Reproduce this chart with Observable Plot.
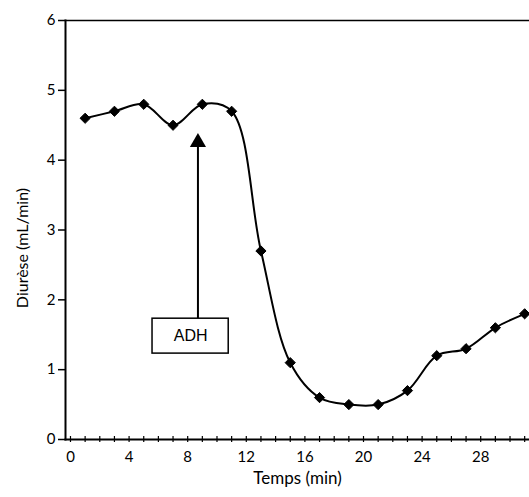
<!DOCTYPE html>
<html>
<head>
<meta charset="utf-8">
<script src="https://cdn.jsdelivr.net/npm/d3@7"></script>
<script src="https://cdn.jsdelivr.net/npm/@observablehq/plot@0.6"></script>
<style>
  html, body { margin: 0; padding: 0; background: #fff; }
  #chart svg { display: block; }
</style>
</head>
<body>
<div id="chart"></div>
<script>
// Data
const times = [1, 3, 5, 7, 9, 11, 13, 15, 17, 19, 21, 23, 25, 27, 29, 31];
const diurese = [4.6, 4.7, 4.8, 4.5, 4.8, 4.7, 2.7, 1.1, 0.6, 0.5, 0.5, 0.7, 1.2, 1.3, 1.6, 1.8];
const xTickLabels = [0, 4, 8, 12, 16, 20, 24, 28];
const xMinorTicks = d3.range(0, 32);
const yTicks = [0, 1, 2, 3, 4, 5, 6];
const xLabel = ["Temps (min)"];
const yLabel = ["Diurèse (mL/min)"];

// Annotation (ADH injection)
const adhLabel = ["ADH"];
const adhArrow = [{x: 8.7, from: 1.73, to: 4.27}];
const adhBox = [{x1: 5.6, x2: 10.8, y1: 1.23, y2: 1.73, cx: 8.2, cy: 1.48}];

const data = times.map((t, i) => ({t, v: diurese[i]}));

const chart = Plot.plot({
  width: 529,
  height: 497,
  marginLeft: 65,
  marginRight: 0,
  marginTop: 20,
  marginBottom: 58,
  style: {fontFamily: "Lato, 'Open Sans', sans-serif", fontSize: "15px", background: "#fff", color: "#000"},
  x: {domain: [-0.34, 31.33]},
  y: {domain: [0, 6]},
  marks: [
    Plot.frame({anchor: "top", strokeWidth: 1.5}),
    Plot.frame({anchor: "left", strokeWidth: 2}),
    Plot.frame({anchor: "bottom", strokeWidth: 2}),
    Plot.ruleX(xMinorTicks, {x: d => d, y1: 0, y2: 0, insetTop: -3, insetBottom: -3, strokeWidth: 1.2}),
    Plot.axisX({ticks: xTickLabels, tickSize: 0, tickPadding: 12, fontSize: 15, tickFormat: "d", label: null}),
    Plot.axisY({ticks: yTicks, tickSize: 7, tickPadding: 3, strokeWidth: 1.5, fontSize: 15, tickFormat: "d", label: null}),
    Plot.text(xLabel, {text: d => d, frameAnchor: "bottom", dy: 44, fontSize: 17}),
    Plot.text(yLabel, {text: d => d, frameAnchor: "left", textAnchor: "middle", rotate: -90, dx: -43, dy: 18, fontSize: 16}),
    Plot.line(data, {x: "t", y: "v", curve: "catmull-rom", stroke: "#000", strokeWidth: 2}),
    Plot.dot(data, {x: "t", y: "v", symbol: "diamond2", r: 4.6, fill: "#000", stroke: "#000", strokeWidth: 1}),
    // Arrow
    Plot.ruleX(adhArrow, {x: "x", y1: "from", y2: "to", strokeWidth: 2}),
    Plot.dot(adhArrow, {x: "x", y: "to", symbol: "triangle", r: 6, fill: "#000", dy: 1}),
    // Box
    Plot.rect(adhBox, {x1: "x1", x2: "x2", y1: "y1", y2: "y2", fill: "#fff", stroke: "#000", strokeWidth: 1.5}),
    Plot.text(adhBox, {x: "cx", y: "cy", text: () => adhLabel[0], fontSize: 16,
      fontFamily: "'Liberation Sans', Arial, sans-serif"})
  ]
});

document.getElementById("chart").appendChild(chart);
</script>
</body>
</html>
